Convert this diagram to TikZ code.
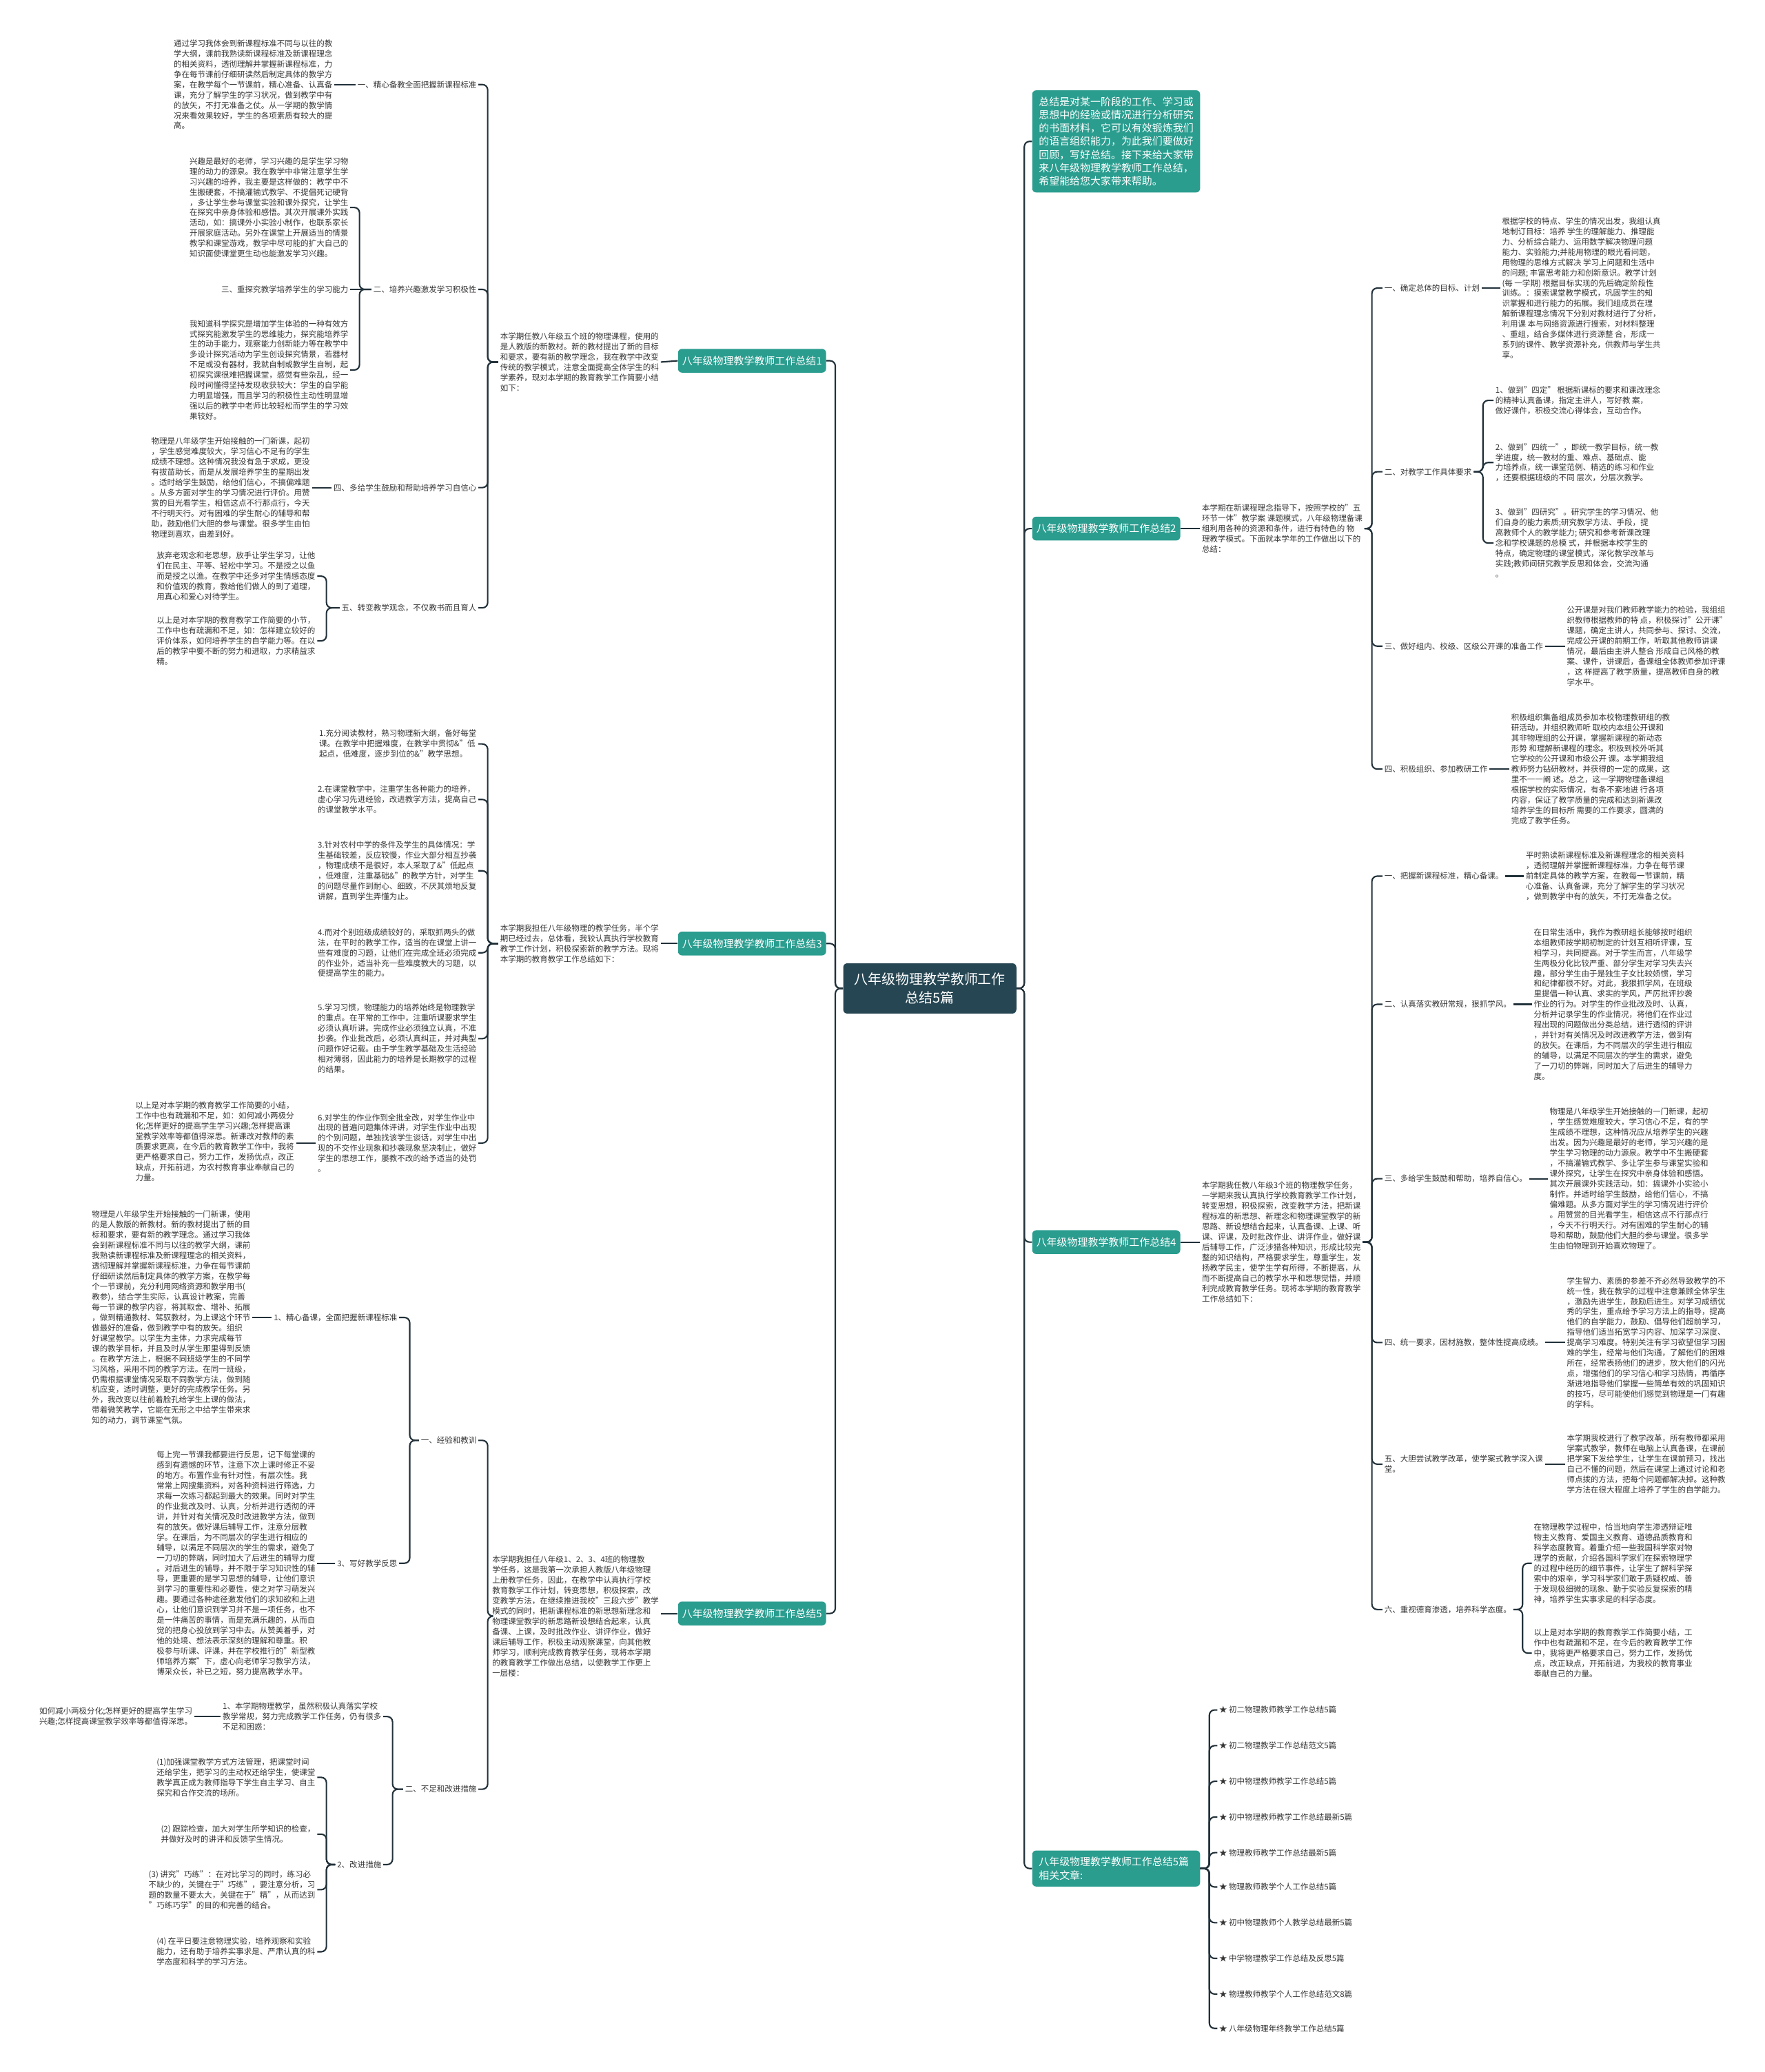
\documentclass[tikz,border=0pt]{standalone}
\usepackage{fontspec}
\setmainfont{Noto Sans CJK SC}
\usetikzlibrary{positioning,calc}
\definecolor{Teal}{HTML}{2A9D8F}
\definecolor{Slate}{HTML}{264653}
\definecolor{Wire}{HTML}{22313A}
\definecolor{Ink}{HTML}{363636}

\begin{document}
\begin{tikzpicture}[
  x=1pt, y=-1pt,
  root/.style={fill=Slate, text=white, rounded corners=3pt, align=center,
    font=\fontsize{10.4}{14}\selectfont, minimum width=131pt, minimum height=38pt, inner sep=2pt},
  branch/.style={fill=Teal, text=white, rounded corners=3pt,
    font=\fontsize{7.8}{10}\selectfont, minimum width=112pt, minimum height=18pt, inner sep=2pt},
  note/.style={fill=Teal, text=white, rounded corners=3pt, align=left,
    font=\fontsize{7.8}{10}\selectfont, inner sep=5pt, text width=117pt},
  para/.style={align=left, font=\fontsize{6}{7.8}\selectfont, text=Ink, inner sep=0pt, outer sep=1.5pt},
  link/.style={draw=Wire, line width=1.1pt, rounded corners=4pt}
]
\fill[white] (0,0) rectangle (1335,1568);
\useasboundingbox (0,0) rectangle (1335,1568);

% centre and main branches
\node[root] (root) at (703.5,748) {八年级物理教学教师工作\\总结5篇};
\node[branch] (sum1) at (569,273) {八年级物理教学教师工作总结1};
\node[branch] (sum3) at (569,714) {八年级物理教学教师工作总结3};
\node[branch] (sum5) at (569,1221) {八年级物理教学教师工作总结5};
\node[note] (intro) at (844.5,107) {总结是对某一阶段的工作、学习或\\思想中的经验或情况进行分析研究\\的书面材料，它可以有效锻炼我们\\的语言组织能力，为此我们要做好\\回顾，写好总结。接下来给大家带\\来八年级物理教学教师工作总结，\\希望能给您大家带来帮助。};
\node[branch] (sum2) at (837,400) {八年级物理教学教师工作总结2};
\node[branch] (sum4) at (837,940) {八年级物理教学教师工作总结4};
\node[note] (rel) at (844.5,1414) {八年级物理教学教师工作总结5篇\\相关文章:};

\coordinate (lt) at (632,0);
\coordinate (rt) at (775,0);
\draw[link] (root.west) -- (root.west -| lt) |- (sum1.east);
\draw[link] (root.west) -- (root.west -| lt) |- (sum3.east);
\draw[link] (root.west) -- (root.west -| lt) |- (sum5.east);
\draw[link] (root.east) -- (root.east -| rt) |- (intro.west);
\draw[link] (root.east) -- (root.east -| rt) |- (sum2.west);
\draw[link] (root.east) -- (root.east -| rt) |- (sum4.west);
\draw[link] (root.east) -- (root.east -| rt) |- (rel.west);

% summary 1
\node[para, anchor=east] (t1) at (500,274) {本学期任教八年级五个班的物理课程，使用的\\是人教版的新教材。新的教材提出了新的目标\\和要求，要有新的教学理念，我在教学中改变\\传统的教学模式，注意全面提高全体学生的科\\学素养，现对本学期的教育教学工作简要小结\\如下：};
\node[para, anchor=east] (h11) at (362,64) {一、精心备教全面把握新课程标准};
\node[para, anchor=east] (t11) at (253,64) {通过学习我体会到新课程标准不同与以往的教\\学大纲，课前我熟读新课程标准及新课程理念\\的相关资料，透彻理解并掌握新课程标准，力\\争在每节课前仔细研读然后制定具体的教学方\\案，在教学每个一节课前，精心准备、认真备\\课，充分了解学生的学习状况，做到教学中有\\的放矢，不打无准备之仗。从一学期的教学情\\况来看效果较好，学生的各项素质有较大的提\\高。};
\node[para, anchor=east] (h12) at (362,219) {二、培养兴趣激发学习积极性};
\node[para, anchor=east] (t12a) at (265,157) {兴趣是最好的老师，学习兴趣的是学生学习物\\理的动力的源泉。我在教学中非常注意学生学\\习兴趣的培养，我主要是这样做的：教学中不\\生搬硬套，不搞灌输式教学、不提倡死记硬背\\，多让学生参与课堂实验和课外探究，让学生\\在探究中亲身体验和感悟。其次开展课外实践\\活动，如：搞课外小实验小制作，也联系家长\\开展家庭活动。另外在课堂上开展适当的情景\\教学和课堂游戏，教学中尽可能的扩大自己的\\知识面使课堂更生动也能激发学习兴趣。};
\node[para, anchor=east] (h12b) at (265,219) {三、重探究教学培养学生的学习能力};
\node[para, anchor=east] (t12c) at (265,280) {我知道科学探究是增加学生体验的一种有效方\\式探究能激发学生的思维能力，探究能培养学\\生的动手能力，观察能力创新能力等在教学中\\多设计探究活动为学生创设探究情景，若器材\\不足或没有器材，我就自制或教学生自制，起\\初探究课很难把握课堂，感觉有些杂乱，经一\\段时间懂得坚持发现收获较大：学生的自学能\\力明显增强，而且学习的积极性主动性明显增\\强以后的教学中老师比较轻松而学生的学习效\\果较好。};
\node[para, anchor=east] (h14) at (362,369) {四、多给学生鼓励和帮助培养学习自信心};
\node[para, anchor=east] (t14) at (236,369) {物理是八年级学生开始接触的一门新课，起初\\，学生感觉难度较大，学习信心不足有的学生\\成绩不理想。这种情况我没有急于求成，更没\\有拔苗助长，而是从发展培养学生的星期出发\\。适时给学生鼓励，给他们信心，不搞偏难题\\。从多方面对学生的学习情况进行评价。用赞\\赏的目光看学生，相信这点不行那点行，今天\\不行明天行。对有困难的学生耐心的辅导和帮\\助，鼓励他们大胆的参与课堂。很多学生由怕\\物理到喜欢，由差到好。};
\node[para, anchor=east] (h15) at (362,460) {五、转变教学观念，不仅教书而且育人};
\node[para, anchor=east] (t15a) at (240,436) {放弃老观念和老思想，放手让学生学习，让他\\们在民主、平等、轻松中学习。不是授之以鱼\\而是授之以渔。在教学中还多对学生情感态度\\和价值观的教育，教给他们做人的到了道理，\\用真心和爱心对待学生。};
\node[para, anchor=east] (t15b) at (240,485) {以上是对本学期的教育教学工作简要的小节，\\工作中也有疏漏和不足，如：怎样建立较好的\\评价体系，如何培养学生的自学能力等。在以\\后的教学中要不断的努力和进取，力求精益求\\精。};

\coordinate (b1) at (369,0);
\coordinate (b12) at (272,0);
\coordinate (b15) at (247,0);
\draw[link] (sum1.west) -- (t1.east);
\draw[link] (t1.west) -- (t1.west -| b1) |- (h11.east);
\draw[link] (t1.west) -- (t1.west -| b1) |- (h12.east);
\draw[link] (t1.west) -- (t1.west -| b1) |- (h14.east);
\draw[link] (t1.west) -- (t1.west -| b1) |- (h15.east);
\draw[link] (h11.west) -- (t11.east);
\draw[link] (h12.west) -- (h12b.east);
\draw[link] (h12.west) -- (h12.west -| b12) |- (t12a.east);
\draw[link] (h12.west) -- (h12.west -| b12) |- (t12c.east);
\draw[link] (h14.west) -- (t14.east);
\draw[link] (h15.west) -- (h15.west -| b15) |- (t15a.east);
\draw[link] (h15.west) -- (h15.west -| b15) |- (t15b.east);

% summary 3
\node[para, anchor=east] (t3) at (500,714) {本学期我担任八年级物理的教学任务，半个学\\期已经过去，总体看，我较认真执行学校教育\\教学工作计划，积极探索新的教学方法。现将\\本学期的教育教学工作总结如下：};
\node[para, anchor=east] (k1) at (362,563) {1.充分阅读教材，熟习物理新大纲，备好每堂\\课。在教学中把握难度，在教学中贯彻\&"低\\起点，低难度，逐步到位的\&"教学思想。};
\node[para, anchor=east] (k2) at (362,605) {2.在课堂教学中，注重学生各种能力的培养，\\虚心学习先进经验，改进教学方法，提高自己\\的课堂教学水平。};
\node[para, anchor=east] (k3) at (362,659) {3.针对农村中学的条件及学生的具体情况：学\\生基础较差，反应较慢，作业大部分相互抄袭\\，物理成绩不是很好，本人采取了\&"低起点\\，低难度，注重基础\&"的教学方针，对学生\\的问题尽量作到耐心、细致，不厌其烦地反复\\讲解，直到学生弄懂为止。};
\node[para, anchor=east] (k4) at (362,721) {4.而对个别班级成绩较好的，采取抓两头的做\\法，在平时的教学工作，适当的在课堂上讲一\\些有难度的习题，让他们在完成全班必须完成\\的作业外，适当补充一些难度教大的习题，以\\便提高学生的能力。};
\node[para, anchor=east] (k5) at (362,786) {5.学习习惯，物理能力的培养始终是物理教学\\的重点。在平常的工作中，注重听课要求学生\\必须认真听讲。完成作业必须独立认真，不准\\抄袭。作业批改后，必须认真纠正，并对典型\\问题作好记载。由于学生教学基础及生活经验\\相对薄弱，因此能力的培养是长期教学的过程\\的结果。};
\node[para, anchor=east] (k6) at (362,865) {6.对学生的作业作到全批全改，对学生作业中\\出现的普遍问题集体评讲，对学生作业中出现\\的个别问题，单独找该学生谈话，对学生中出\\现的不交作业现象和抄袭现象坚决制止，做好\\学生的思想工作，屡教不改的给予适当的处罚\\。};
\node[para, anchor=east] (k7) at (224,864) {以上是对本学期的教育教学工作简要的小结，\\工作中也有疏漏和不足，如：如何减小两极分\\化;怎样更好的提高学生学习兴趣;怎样提高课\\堂教学效率等都值得深思。新课改对教师的素\\质要求更高，在今后的教育教学工作中，我将\\更严格要求自己，努力工作，发扬优点，改正\\缺点，开拓前进，为农村教育事业奉献自己的\\力量。};

\coordinate (b3) at (369,0);
\draw[link] (sum3.west) -- (t3.east);
\draw[link] (t3.west) -- (t3.west -| b3) |- (k1.east);
\draw[link] (t3.west) -- (t3.west -| b3) |- (k2.east);
\draw[link] (t3.west) -- (t3.west -| b3) |- (k3.east);
\draw[link] (t3.west) -- (t3.west -| b3) |- (k4.east);
\draw[link] (t3.west) -- (t3.west -| b3) |- (k5.east);
\draw[link] (t3.west) -- (t3.west -| b3) |- (k6.east);
\draw[link] (k6.west) -- (k6.west -| k7.east);

% summary 5
\node[para, anchor=east] (t5) at (500,1223) {本学期我担任八年级1、2、3、4班的物理教\\学任务，这是我第一次承担人教版八年级物理\\上册教学任务，因此，在教学中认真执行学校\\教育教学工作计划，转变思想，积极探索，改\\变教学方法，在继续推进我校"三段六步"教学\\模式的同时，把新课程标准的新思想新理念和\\物理课堂教学的新思路新设想结合起来，认真\\备课、上课，及时批改作业、讲评作业，做好\\课后辅导工作，积极主动观察课堂，向其他教\\师学习，顺利完成教育教学任务，现将本学期\\的教育教学工作做出总结，以使教学工作更上\\一层楼：};
\node[para, anchor=east] (h51) at (362,1090) {一、经验和教训};
\node[para, anchor=east] (h511) at (302,997) {1、精心备课，全面把握新课程标准};
\node[para, anchor=east] (t511) at (191,997) {物理是八年级学生开始接触的一门新课，使用\\的是人教版的新教材。新的教材提出了新的目\\标和要求，要有新的教学理念。通过学习我体\\会到新课程标准不同与以往的教学大纲，课前\\我熟读新课程标准及新课程理念的相关资料，\\透彻理解并掌握新课程标准，力争在每节课前\\仔细研读然后制定具体的教学方案，在教学每\\个一节课前，充分利用网络资源和教学用书(\\教参)，结合学生实际，认真设计教案，完善\\每一节课的教学内容，将其取舍、增补、拓展\\，做到精通教材、驾驭教材，为上课这个环节\\做最好的准备，做到教学中有的放矢。组织\\好课堂教学。以学生为主体，力求完成每节\\课的教学目标，并且及时从学生那里得到反馈\\。在教学方法上，根据不同班级学生的不同学\\习风格，采用不同的教学方法。在同一班级，\\仍需根据课堂情况采取不同教学方法，做到随\\机应变，适时调整，更好的完成教学任务。另\\外，我改变以往前着脸孔给学生上课的做法，\\带着微笑教学，它能在无形之中给学生带来求\\知的动力，调节课堂气氛。};
\node[para, anchor=east] (h513) at (302,1183) {3、写好教学反思};
\node[para, anchor=east] (t513) at (240,1183) {每上完一节课我都要进行反思，记下每堂课的\\感到有遗憾的环节，注意下次上课时修正不妥\\的地方。布置作业有针对性，有层次性。我\\常常上网搜集资料，对各种资料进行筛选，力\\求每一次练习都起到最大的效果。同时对学生\\的作业批改及时、认真，分析并进行透彻的评\\讲，并针对有关情况及时改进教学方法，做到\\有的放矢。做好课后辅导工作，注意分层教\\学。在课后，为不同层次的学生进行相应的\\辅导，以满足不同层次的学生的需求，避免了\\一刀切的弊端，同时加大了后进生的辅导力度\\。对后进生的辅导，并不限于学习知识性的辅\\导，更重要的是学习思想的辅导，让他们意识\\到学习的重要性和必要性，使之对学习萌发兴\\趣。要通过各种途径激发他们的求知欲和上进\\心，让他们意识到学习并不是一项任务，也不\\是一件痛苦的事情，而是充满乐趣的，从而自\\觉的把身心投放到学习中去。从赞美着手，对\\他的处境、想法表示深刻的理解和尊重。积\\极参与听课、评课，并在学校推行的"新型教\\师培养方案"下，虚心向老师学习教学方法，\\博采众长，补已之短，努力提高教学水平。};
\node[para, anchor=east] (h52) at (362,1354) {二、不足和改进措施};
\node[para, anchor=east] (h521) at (290,1299) {1、本学期物理教学，虽然积极认真落实学校\\教学常规，努力完成教学工作任务，仍有很多\\不足和困惑：};
\node[para, anchor=east] (t521) at (147,1299) {如何减小两极分化;怎样更好的提高学生学习\\兴趣;怎样提高课堂教学效率等都值得深思。};
\node[para, anchor=east] (h522) at (290,1411) {2、改进措施};
\node[para, anchor=east] (m1) at (240,1345) {(1)加强课堂教学方式方法管理，把课堂时间\\还给学生，把学习的主动权还给学生，使课堂\\教学真正成为教师指导下学生自主学习、自主\\探究和合作交流的场所。};
\node[para, anchor=east] (m2) at (240,1388) {(2) 跟踪检查，加大对学生所学知识的检查，\\并做好及时的讲评和反馈学生情况。};
\node[para, anchor=east] (m3) at (240,1430) {(3) 讲究"巧练"：在对比学习的同时，练习必\\不缺少的，关键在于"巧练"，要注意分析，习\\题的数量不要太大，关键在于"精"，从而达到\\"巧练巧学"的目的和完善的结合。};
\node[para, anchor=east] (m4) at (240,1477) {(4) 在平日要注意物理实验，培养观察和实验\\能力，还有助于培养实事求是、严肃认真的科\\学态度和科学的学习方法。};

\coordinate (b5) at (369,0);
\coordinate (b51) at (310,0);
\coordinate (b52) at (297,0);
\coordinate (b522) at (247,0);
\draw[link] (sum5.west) -- (sum5.west -| t5.east);
\draw[link] (t5.west) -- (t5.west -| b5) |- (h51.east);
\draw[link] (t5.west) -- (t5.west -| b5) |- (h52.east);
\draw[link] (h51.west) -- (h51.west -| b51) |- (h511.east);
\draw[link] (h51.west) -- (h51.west -| b51) |- (h513.east);
\draw[link] (h511.west) -- (t511.east);
\draw[link] (h513.west) -- (t513.east);
\draw[link] (h52.west) -- (h52.west -| b52) |- (h521.east);
\draw[link] (h52.west) -- (h52.west -| b52) |- (h522.east);
\draw[link] (h521.west) -- (t521.east);
\draw[link] (h522.west) -- (h522.west -| b522) |- (m1.east);
\draw[link] (h522.west) -- (h522.west -| b522) |- (m2.east);
\draw[link] (h522.west) -- (h522.west -| b522) |- (m3.east);
\draw[link] (h522.west) -- (h522.west -| b522) |- (m4.east);

% summary 2
\node[para, anchor=west] (t2) at (908,400) {本学期在新课程理念指导下，按照学校的"五\\环节一体"教学案 课题模式，八年级物理备课\\组利用各种的资源和条件，进行有特色的 物\\理教学模式。下面就本学年的工作做出以下的\\总结：};
\node[para, anchor=west] (g21) at (1046,218) {一、确定总体的目标、计划};
\node[para, anchor=west] (t21) at (1135,218) {根据学校的特点、学生的情况出发，我组认真\\地制订目标：培养 学生的理解能力、推理能\\力、分析综合能力、运用数学解决物理问题\\能力、实验能力;并能用物理的眼光看问题，\\用物理的思维方式解决 学习上问题和生活中\\的问题; 丰富思考能力和创新意识。教学计划\\(每 一学期) 根据目标实现的先后确定阶段性\\训练。：摸索课堂教学模式，巩固学生的知\\识掌握和进行能力的拓展。我们组成员在理\\解新课程理念情况下分别对教材进行了分析，\\利用课 本与网络资源进行搜索，对材料整理\\、重组，结合多媒体进行资源整 合，形成一\\系列的课件、教学资源补充，供教师与学生共\\享。};
\node[para, anchor=west] (g22) at (1046,357) {二、对教学工作具体要求};
\node[para, anchor=west] (u1) at (1130,303) {1、做到"四定" 根据新课标的要求和课改理念\\的精神认真备课，指定主讲人，写好教 案，\\做好课件，积极交流心得体会，互动合作。};
\node[para, anchor=west] (u2) at (1130,350) {2、做到"四统一"，即统一教学目标，统一教\\学进度，统一教材的重、难点、基础点、能\\力培养点，统一课堂范例、精选的练习和作业\\，还要根据班级的不同 层次，分层次教学。};
\node[para, anchor=west] (u3) at (1130,411) {3、做到"四研究"。研究学生的学习情况、他\\们自身的能力素质;研究教学方法、手段，提\\高教师个人的教学能力; 研究和参考新课改理\\念和学校课题的总模 式，并根据本校学生的\\特点，确定物理的课堂模式，深化教学改革与\\实践;教师间研究教学反思和体会，交流沟通\\。};
\node[para, anchor=west] (g23) at (1046,489) {三、做好组内、校级、区级公开课的准备工作};
\node[para, anchor=west] (t23) at (1184,489) {公开课是对我们教师教学能力的检验，我组组\\织教师根据教师的特 点，积极探讨"公开课"\\课题，确定主讲人，共同参与、探讨、交流，\\完成公开课的前期工作，听取其他教师讲课\\情况，最后由主讲人整合 形成自己风格的教\\案、课件，讲课后，备课组全体教师参加评课\\，这 样提高了教学质量，提高教师自身的教\\学水平。};
\node[para, anchor=west] (g24) at (1046,582) {四、积极组织、参加教研工作};
\node[para, anchor=west] (t24) at (1142,582) {积极组织集备组成员参加本校物理教研组的教\\研活动，并组织教师听 取校内本组公开课和\\其非物理组的公开课，掌握新课程的新动态\\形势 和理解新课程的理念。积极到校外听其\\它学校的公开课和市级公开 课。本学期我组\\教师努力钻研教材，并获得的一定的成果，这\\里不一一阐 述。总之，这一学期物理备课组\\根据学校的实际情况，有条不紊地进 行各项\\内容，保证了教学质量的完成和达到新课改\\培养学生的目标所 需要的工作要求，圆满的\\完成了教学任务。};

\coordinate (b2) at (1038,0);
\coordinate (b22) at (1122,0);
\draw[link] (sum2.east) -- (t2.west);
\draw[link] (t2.east) -- (t2.east -| b2) |- (g21.west);
\draw[link] (t2.east) -- (t2.east -| b2) |- (g22.west);
\draw[link] (t2.east) -- (t2.east -| b2) |- (g23.west);
\draw[link] (t2.east) -- (t2.east -| b2) |- (g24.west);
\draw[link] (g21.east) -- (t21.west);
\draw[link] (g22.east) -- (g22.east -| b22) |- (u1.west);
\draw[link] (g22.east) -- (g22.east -| b22) |- (u2.west);
\draw[link] (g22.east) -- (g22.east -| b22) |- (u3.west);
\draw[link] (g23.east) -- (t23.west);
\draw[link] (g24.east) -- (t24.west);

% summary 4
\node[para, anchor=west] (t4) at (908,940) {本学期我任教八年级3个班的物理教学任务，\\一学期来我认真执行学校教育教学工作计划，\\转变思想，积极探索，改变教学方法，把新课\\程标准的新思想、新理念和物理课堂教学的新\\思路、新设想结合起来，认真备课、上课、听\\课、评课，及时批改作业、讲评作业，做好课\\后辅导工作，广泛涉猎各种知识，形成比较完\\整的知识结构，严格要求学生，尊重学生，发\\扬教学民主，使学生学有所得，不断提高，从\\而不断提高自己的教学水平和思想觉悟，并顺\\利完成教育教学任务。现将本学期的教育教学\\工作总结如下：};
\node[para, anchor=west] (g41) at (1046,663) {一、把握新课程标准，精心备课。};
\node[para, anchor=west] (t41) at (1153,663) {平时熟读新课程标准及新课程理念的相关资料\\，透彻理解并掌握新课程标准，力争在每节课\\前制定具体的教学方案，在教每一节课前，精\\心准备、认真备课，充分了解学生的学习状况\\，做到教学中有的放矢，不打无准备之仗。};
\node[para, anchor=west] (g42) at (1046,760) {二、认真落实教研常规，狠抓学风。};
\node[para, anchor=west] (t42) at (1159,760) {在日常生活中，我作为教研组长能够按时组织\\本组教师按学期初制定的计划互相听评课，互\\相学习，共同提高。对于学生而言，八年级学\\生两极分化比较严重、部分学生对学习失去兴\\趣，部分学生由于是独生子女比较娇惯，学习\\和纪律都很不好。对此，我狠抓学风，在班级\\里提倡一种认真、求实的学风，严厉批评抄袭\\作业的行为。对学生的作业批改及时、认真，\\分析并记录学生的作业情况，将他们在作业过\\程出现的问题做出分类总结，进行透彻的评讲\\，并针对有关情况及时改进教学方法，做到有\\的放矢。在课后，为不同层次的学生进行相应\\的辅导，以满足不同层次的学生的需求，避免\\了一刀切的弊端，同时加大了后进生的辅导力\\度。};
\node[para, anchor=west] (g43) at (1046,892) {三、多给学生鼓励和帮助，培养自信心。};
\node[para, anchor=west] (t43) at (1171,892) {物理是八年级学生开始接触的一门新课，起初\\，学生感觉难度较大，学习信心不足，有的学\\生成绩不理想，这种情况应从培养学生的兴趣\\出发。因为兴趣是最好的老师，学习兴趣的是\\学生学习物理的动力源泉。教学中不生搬硬套\\，不搞灌输式教学、多让学生参与课堂实验和\\课外探究，让学生在探究中亲身体验和感悟。\\其次开展课外实践活动，如：搞课外小实验小\\制作。并适时给学生鼓励，给他们信心，不搞\\偏难题。从多方面对学生的学习情况进行评价\\。用赞赏的目光看学生，相信这点不行那点行\\，今天不行明天行。对有困难的学生耐心的辅\\导和帮助，鼓励他们大胆的参与课堂。很多学\\生由怕物理到开始喜欢物理了。};
\node[para, anchor=west] (g44) at (1046,1016) {四、统一要求，因材施教，整体性提高成绩。};
\node[para, anchor=west] (t44) at (1184,1016) {学生智力、素质的参差不齐必然导致教学的不\\统一性，我在教学的过程中注意兼顾全体学生\\，激励先进学生，鼓励后进生。对学习成绩优\\秀的学生，重点给予学习方法上的指导，提高\\他们的自学能力，鼓励、倡导他们超前学习，\\指导他们适当拓宽学习内容、加深学习深度、\\提高学习难度。特别关注有学习欲望但学习困\\难的学生，经常与他们沟通，了解他们的困难\\所在，经常表扬他们的进步，放大他们的闪光\\点，增强他们的学习信心和学习热情，再循序\\渐进地指导他们掌握一些简单有效的巩固知识\\的技巧，尽可能使他们感觉到物理是一门有趣\\的学科。};
\node[para, anchor=west] (g45) at (1046,1108) {五、大胆尝试教学改革，使学案式教学深入课\\堂。};
\node[para, anchor=west] (t45) at (1184,1108) {本学期我校进行了教学改革，所有教师都采用\\学案式教学，教师在电脑上认真备课，在课前\\把学案下发给学生，让学生在课前预习，找出\\自己不懂的问题，然后在课堂上通过讨论和老\\师点拨的方法，把每个问题都解决掉。这种教\\学方法在很大程度上培养了学生的自学能力。};
\node[para, anchor=west] (g46) at (1046,1218) {六、重视德育渗透，培养科学态度。};
\node[para, anchor=west] (t46a) at (1159,1183) {在物理教学过程中，恰当地向学生渗透辩证唯\\物主义教育、爱国主义教育、道德品质教育和\\科学态度教育。着重介绍一些我国科学家对物\\理学的贡献，介绍各国科学家们在探索物理学\\的过程中经历的细节事件，让学生了解科学探\\索中的艰辛，学习科学家们敢于质疑权威、善\\于发现极细微的现象、勤于实验反复探索的精\\神，培养学生实事求是的科学态度。};
\node[para, anchor=west] (t46b) at (1159,1251) {以上是对本学期的教育教学工作简要小结，工\\作中也有疏漏和不足，在今后的教育教学工作\\中，我将更严格要求自己，努力工作，发扬优\\点，改正缺点，开拓前进，为我校的教育事业\\奉献自己的力量。};

\coordinate (b4) at (1038,0);
\coordinate (b46) at (1152,0);
\draw[link] (sum4.east) -- (t4.west);
\draw[link] (t4.east) -- (t4.east -| b4) |- (g41.west);
\draw[link] (t4.east) -- (t4.east -| b4) |- (g42.west);
\draw[link] (t4.east) -- (t4.east -| b4) |- (g43.west);
\draw[link] (t4.east) -- (t4.east -| b4) |- (g44.west);
\draw[link] (t4.east) -- (t4.east -| b4) |- (g45.west);
\draw[link] (t4.east) -- (t4.east -| b4) |- (g46.west);
\draw[link] (g41.east) -- (t41.west);
\draw[link] (g42.east) -- (t42.west);
\draw[link] (g43.east) -- (t43.west);
\draw[link] (g44.east) -- (t44.west);
\draw[link] (g45.east) -- (t45.west);
\draw[link] (g46.east) -- (g46.east -| b46) |- (t46a.west);
\draw[link] (g46.east) -- (g46.east -| b46) |- (t46b.west);

% related articles
\node[para, anchor=west] (r1) at (921,1294) {★ 初二物理教师教学工作总结5篇};
\node[para, anchor=west] (r2) at (921,1321) {★ 初二物理教学工作总结范文5篇};
\node[para, anchor=west] (r3) at (921,1348) {★ 初中物理教师教学工作总结5篇};
\node[para, anchor=west] (r4) at (921,1375) {★ 初中物理教师教学工作总结最新5篇};
\node[para, anchor=west] (r5) at (921,1402) {★ 物理教师教学工作总结最新5篇};
\node[para, anchor=west] (r6) at (921,1428) {★ 物理教师教学个人工作总结5篇};
\node[para, anchor=west] (r7) at (921,1455) {★ 初中物理教师个人教学总结最新5篇};
\node[para, anchor=west] (r8) at (921,1482) {★ 中学物理教学工作总结及反思5篇};
\node[para, anchor=west] (r9) at (921,1509) {★ 物理教师教学个人工作总结范文8篇};
\node[para, anchor=west] (r10) at (921,1535) {★ 八年级物理年终教学工作总结5篇};

\coordinate (b6) at (915,0);
\draw[link] (rel.east) -- (rel.east -| b6) |- (r1.west);
\draw[link] (rel.east) -- (rel.east -| b6) |- (r2.west);
\draw[link] (rel.east) -- (rel.east -| b6) |- (r3.west);
\draw[link] (rel.east) -- (rel.east -| b6) |- (r4.west);
\draw[link] (rel.east) -- (rel.east -| b6) |- (r5.west);
\draw[link] (rel.east) -- (rel.east -| b6) |- (r6.west);
\draw[link] (rel.east) -- (rel.east -| b6) |- (r7.west);
\draw[link] (rel.east) -- (rel.east -| b6) |- (r8.west);
\draw[link] (rel.east) -- (rel.east -| b6) |- (r9.west);
\draw[link] (rel.east) -- (rel.east -| b6) |- (r10.west);
\end{tikzpicture}
\end{document}
